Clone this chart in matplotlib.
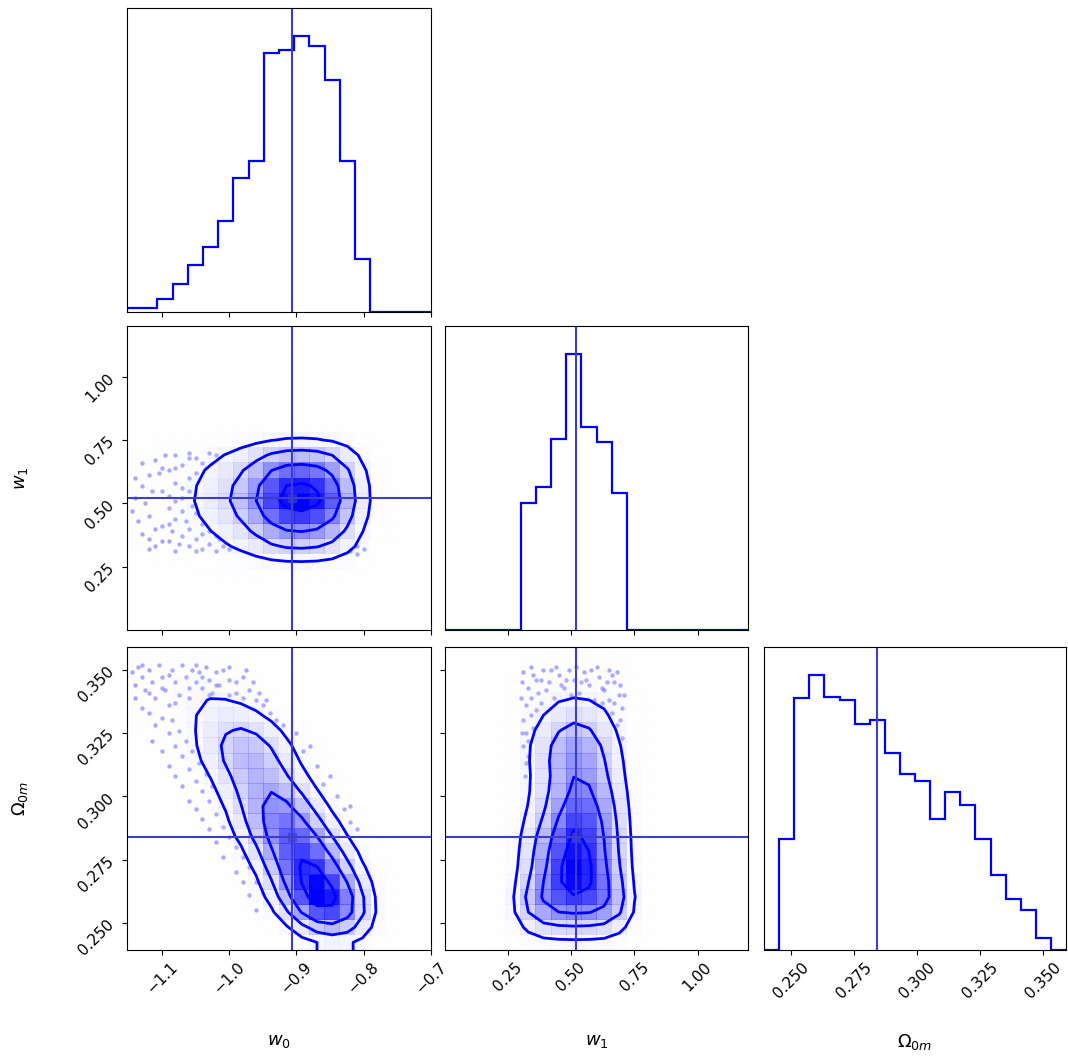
import numpy as np
import matplotlib
matplotlib.use("Agg")
import matplotlib.pyplot as plt
from matplotlib.colors import LinearSegmentedColormap
from matplotlib.ticker import FixedLocator

COLOR = "blue"
TRUTH_COLOR = "#3d3dcc"

LABELS = [r"$w_0$", r"$w_1$", r"$\Omega_{0m}$"]
RANGES = [(-1.152, -0.700), (0.0, 1.2), (0.2393, 0.3590)]
TRUTHS = [-0.907, 0.52, 0.284]
TICKS = [
    [-1.1, -1.0, -0.9, -0.8, -0.7],
    [0.25, 0.50, 0.75, 1.00],
    [0.250, 0.275, 0.300, 0.325, 0.350],
]
NBINS = 20

# 1D marginals (bar heights)
HIST_W0 = [13, 13, 40, 85, 140, 195, 273, 400, 453, 775,
           785, 827, 795, 693, 453, 160, 0, 0, 0, 0]
HIST_W1 = [0, 0, 0, 0, 0, 380, 429, 575, 830, 610,
           565, 412, 0, 0, 0, 0, 0, 0, 0, 0]
HIST_OM = [0, 335, 758, 830, 762, 753, 682, 694, 595, 530,
           508, 394, 475, 437, 334, 227, 155, 122, 37, 0]

# 2D counts, one entry per y bin: (y bin, first x bin, counts)
H_W0_W1 = [
    (5, 0, [1, 1, 4, 8, 14, 20, 27, 40, 45, 78, 79, 83, 80, 69, 45, 16]),
    (6, 0, [2, 2, 5, 10, 16, 22, 31, 45, 51, 88, 89, 94, 90, 78, 51, 18]),
    (7, 0, [2, 2, 6, 13, 21, 29, 41, 60, 68, 117, 119, 125, 120, 105, 68, 24]),
    (8, 0, [3, 3, 9, 19, 31, 43, 60, 87, 99, 169, 171, 180, 173, 151, 99, 35]),
    (9, 0, [2, 2, 6, 14, 22, 31, 44, 64, 73, 124, 126, 132, 127, 111, 73, 26]),
    (10, 0, [2, 2, 6, 13, 21, 29, 41, 60, 68, 116, 117, 123, 119, 103, 68, 24]),
    (11, 0, [1, 1, 4, 9, 15, 21, 30, 43, 49, 84, 85, 89, 86, 75, 49, 17]),
]

H_W0_OM = [
    (1, 10, [0.6, 2.4, 6, 9.5, 9.5, 6]),
    (2, 9, [1.2, 4.6, 11.5, 18.4, 18.4, 13.8, 8]),
    (3, 9, [2.5, 7.5, 15.1, 20.1, 18.9, 12.6, 6.3]),
    (4, 8, [1.1, 4.5, 10.1, 15.7, 17.9, 14.6, 9, 3.4]),
    (5, 8, [2.2, 6.6, 13.2, 17.6, 16.5, 11, 5.5, 2.2]),
    (6, 7, [1, 3.9, 8.7, 13.6, 15.5, 12.6, 7.8, 3.9, 1]),
    (7, 6, [1, 2.9, 6.8, 11.7, 15.5, 14.6, 9.7, 4.9, 1.9]),
    (8, 6, [1.7, 4.2, 8.5, 12.7, 13.5, 10.1, 5.9, 2.5, 0.8]),
    (9, 5, [0.7, 2.2, 5.2, 8.9, 11.9, 11.2, 7.5, 3.7, 1.5]),
    (10, 4, [0.7, 1.4, 3.4, 6.9, 10.3, 11, 9, 5.5, 2.1, 0.7]),
    (11, 4, [0.6, 2.2, 4.5, 7.2, 8.9, 7.8, 5, 2.2, 0.6]),
    (12, 3, [0.6, 1.9, 3.8, 7, 9.6, 10.2, 7.7, 4.5, 1.9, 0.6]),
    (13, 3, [1.2, 2.3, 4.7, 7.6, 9.4, 8.8, 5.9, 2.9, 1.2]),
    (14, 2, [0.4, 1.3, 2.6, 4.3, 6.1, 7, 5.7, 3.5, 1.7, 0.4]),
    (15, 1, [0.3, 0.6, 1.5, 2.7, 3.9, 4.8, 4.2, 3, 1.5, 0.6]),
    (16, 0, [0.2, 0.6, 1.2, 2, 2.8, 3.2, 2.8, 2, 1, 0.4]),
    (17, 0, [0.3, 0.8, 1.4, 2, 2.5, 2.2, 1.6, 0.9, 0.3]),
    (18, 0, [0.2, 0.4, 0.6, 0.9, 0.9, 0.6, 0.4, 0.1]),
]

H_W1_OM = [
    (1, 5, [4.4, 4.8, 4.9, 5.3, 4.9, 4.9, 4.8]),
    (2, 5, [9.9, 10.6, 11, 11.8, 11, 11, 10.6]),
    (3, 5, [10.8, 11.6, 12, 12.9, 12, 12, 11.6]),
    (4, 5, [5.8, 7.8, 13.4, 17.5, 14.2, 10.3, 7]),
    (5, 5, [5.7, 7.7, 13.2, 17.3, 14, 10.2, 6.9]),
    (6, 5, [5.2, 7, 12, 15.7, 12.7, 9.2, 6.2]),
    (7, 5, [5.3, 7.1, 12.1, 15.9, 12.9, 9.4, 6.3]),
    (8, 5, [3.6, 4.8, 9, 15, 12.6, 9.6, 5.4]),
    (9, 5, [3.2, 4.2, 8, 13.3, 11.1, 8.5, 4.8]),
    (10, 5, [3.1, 4.1, 7.7, 12.8, 10.7, 8.2, 4.6]),
    (11, 5, [2.3, 3.1, 5.9, 9.8, 8.2, 6.2, 3.5]),
    (12, 5, [3.4, 4.8, 8.2, 13, 9.1, 5.8, 3.8]),
    (13, 5, [3.1, 4.4, 7.5, 11.9, 8.4, 5.3, 3.5]),
    (14, 5, [2.3, 3.3, 5.6, 8.9, 6.3, 4, 2.6]),
    (15, 5, [1.6, 2.3, 3.9, 6.2, 4.4, 2.8, 1.8]),
    (16, 5, [2.1, 2.1, 2.2, 2.6, 2.4, 2.4, 2.2]),
    (17, 5, [1.6, 1.6, 1.7, 1.9, 1.8, 1.8, 1.7]),
    (18, 5, [0.5, 0.5, 0.6, 0.6, 0.6, 0.6, 0.6]),
]

# outlying samples visible outside the outer contours
PTS_W0_W1 = [
    (-1.14, 0.52), (-1.13, 0.38), (-1.12, 0.61), (-1.12, 0.45), (-1.11, 0.33),
    (-1.11, 0.67), (-1.10, 0.55), (-1.10, 0.41), (-1.09, 0.48), (-1.09, 0.63),
    (-1.09, 0.35), (-1.08, 0.69), (-1.08, 0.58), (-1.08, 0.44), (-1.08, 0.31),
    (-1.07, 0.52), (-1.07, 0.37), (-1.07, 0.65), (-1.07, 0.47), (-1.06, 0.60),
    (-1.06, 0.40), (-1.06, 0.33), (-1.06, 0.55), (-1.06, 0.70), (-1.05, 0.46),
    (-1.05, 0.62), (-1.05, 0.36), (-1.05, 0.53), (-1.05, 0.68), (-1.04, 0.42),
    (-1.04, 0.58), (-1.04, 0.32), (-1.04, 0.50), (-1.04, 0.66), (-1.03, 0.39),
    (-1.03, 0.61), (-1.03, 0.45), (-1.03, 0.56), (-1.03, 0.34), (-1.03, 0.70),
    (-1.02, 0.48), (-1.02, 0.64), (-1.02, 0.37), (-1.02, 0.59), (-1.02, 0.31),
    (-1.01, 0.43), (-1.01, 0.67), (-1.01, 0.33), (-1.01, 0.54), (-1.00, 0.69),
    (-1.00, 0.32), (-0.82, 0.31), (-0.81, 0.33), (-0.80, 0.32), (-0.81, 0.30),
    (-1.13, 0.57), (-1.12, 0.36), (-1.10, 0.64), (-1.09, 0.42), (-1.08, 0.51),
    (-1.145, 0.47), (-1.14, 0.60), (-1.135, 0.43), (-1.13, 0.66), (-1.125, 0.50),
    (-1.12, 0.32), (-1.115, 0.55), (-1.11, 0.40), (-1.105, 0.62), (-1.10, 0.35),
    (-1.095, 0.69), (-1.09, 0.53), (-1.085, 0.39), (-1.08, 0.64), (-1.075, 0.34),
    (-1.07, 0.56), (-1.065, 0.43), (-1.06, 0.68), (-1.055, 0.49), (-1.05, 0.31),
    (-1.045, 0.57), (-1.04, 0.38), (-1.035, 0.64), (-1.03, 0.51), (-1.025, 0.42),
    (-1.02, 0.69), (-1.015, 0.36), (-1.01, 0.60), (-0.83, 0.32), (-0.82, 0.34),
]

PTS_W0_OM = [
    (-1.145, 0.349), (-1.14, 0.344), (-1.135, 0.351), (-1.13, 0.347), (-1.125, 0.342),
    (-1.12, 0.350), (-1.115, 0.345), (-1.11, 0.339), (-1.105, 0.352), (-1.10, 0.347),
    (-1.095, 0.342), (-1.09, 0.336), (-1.085, 0.350), (-1.08, 0.345), (-1.075, 0.340),
    (-1.07, 0.352), (-1.065, 0.347), (-1.06, 0.343), (-1.055, 0.350), (-1.05, 0.345),
    (-1.045, 0.349), (-1.04, 0.343), (-1.035, 0.351), (-1.03, 0.346), (-1.025, 0.341),
    (-1.02, 0.349), (-1.015, 0.344), (-1.01, 0.350), (-1.00, 0.346), (-0.99, 0.341),
    (-0.98, 0.347), (-0.97, 0.342), (-0.96, 0.338), (-0.95, 0.336), (-0.94, 0.333),
    (-0.93, 0.330),
    (-1.14, 0.339), (-1.13, 0.352), (-1.12, 0.341), (-1.10, 0.343), (-1.09, 0.348),
    (-1.08, 0.337), (-1.06, 0.339), (-1.05, 0.352), (-1.04, 0.347), (-1.03, 0.340),
    (-1.02, 0.344), (-1.00, 0.351), (-0.99, 0.345), (-0.98, 0.339), (-0.975, 0.350),
    (-0.965, 0.345), (-0.955, 0.341), (-0.945, 0.338), (-1.00, 0.340),
    (-1.12, 0.333), (-1.11, 0.328), (-1.10, 0.331), (-1.09, 0.325), (-1.085, 0.330),
    (-1.08, 0.320), (-1.075, 0.326), (-1.07, 0.316), (-1.065, 0.322), (-1.06, 0.311),
    (-1.055, 0.318), (-1.05, 0.306), (-1.045, 0.313), (-1.04, 0.302), (-1.035, 0.309),
    (-1.03, 0.298), (-1.025, 0.304), (-1.02, 0.293), (-1.01, 0.288), (-1.00, 0.284),
    (-0.99, 0.280), (-0.98, 0.276), (-0.97, 0.272), (-0.96, 0.266), (-0.95, 0.262),
    (-0.94, 0.258),
    (-1.13, 0.335), (-1.115, 0.322), (-1.10, 0.318), (-1.09, 0.312), (-1.08, 0.308),
    (-1.07, 0.304), (-1.06, 0.298), (-1.05, 0.295), (-1.04, 0.291), (-1.03, 0.287),
    (-1.02, 0.282), (-1.01, 0.276), (-0.99, 0.270), (-0.98, 0.266), (-0.97, 0.261),
    (-0.96, 0.255),
    (-0.90, 0.325), (-0.89, 0.318), (-0.87, 0.312), (-0.86, 0.305), (-0.84, 0.300),
    (-0.83, 0.295), (-0.82, 0.290), (-0.81, 0.287), (-0.92, 0.328), (-0.88, 0.320),
    (-0.85, 0.308), (-0.82, 0.296),
]

PTS_W1_OM = [
    (0.31, 0.349), (0.33, 0.343), (0.35, 0.348), (0.37, 0.341), (0.39, 0.350),
    (0.41, 0.345), (0.43, 0.339), (0.45, 0.348), (0.47, 0.343), (0.49, 0.350),
    (0.51, 0.346), (0.53, 0.341), (0.55, 0.349), (0.57, 0.344), (0.59, 0.338),
    (0.61, 0.347), (0.63, 0.342), (0.65, 0.350), (0.67, 0.345), (0.69, 0.340),
    (0.32, 0.336), (0.36, 0.346), (0.40, 0.342), (0.44, 0.351), (0.48, 0.346),
    (0.52, 0.351), (0.56, 0.346), (0.60, 0.351), (0.64, 0.345), (0.68, 0.349),
    (0.70, 0.335),
    (0.31, 0.330), (0.32, 0.325), (0.31, 0.320), (0.33, 0.316), (0.34, 0.332),
    (0.35, 0.327), (0.32, 0.313), (0.66, 0.333), (0.68, 0.328), (0.70, 0.323),
    (0.69, 0.318), (0.67, 0.322), (0.70, 0.314), (0.65, 0.338),
    (0.305, 0.345), (0.34, 0.351), (0.38, 0.346), (0.42, 0.350), (0.46, 0.344),
    (0.50, 0.340), (0.54, 0.345), (0.58, 0.350), (0.62, 0.343), (0.66, 0.348),
    (0.695, 0.344), (0.30, 0.339), (0.34, 0.339), (0.38, 0.337), (0.62, 0.337),
    (0.67, 0.337), (0.305, 0.325), (0.315, 0.308), (0.33, 0.322), (0.695, 0.330),
    (0.685, 0.312), (0.66, 0.326), (0.36, 0.334), (0.64, 0.331), (0.71, 0.340),
]

white_cmap = LinearSegmentedColormap.from_list("white_cmap", [(1, 1, 1), (1, 1, 1)], N=2)
density_cmap = LinearSegmentedColormap.from_list("density_cmap", [COLOR, (1, 1, 1, 0)])


def build_grid(rows):
    H = np.zeros((NBINS, NBINS))
    for iy, ix0, vals in rows:
        H[ix0:ix0 + len(vals), iy] = vals
    return H


def gauss_smooth(H, sigma):
    r = int(4 * sigma + 0.5)
    k = np.exp(-0.5 * (np.arange(-r, r + 1) / sigma) ** 2)
    k /= k.sum()
    P = np.pad(H, r, mode="symmetric")
    P = np.apply_along_axis(np.convolve, 0, P, k, mode="valid")
    P = np.apply_along_axis(np.convolve, 1, P, k, mode="valid")
    return P


def extend(c):
    return np.concatenate([c[0] + np.array([-2, -1]) * np.diff(c[:2]), c,
                           c[-1] + np.array([1, 2]) * np.diff(c[-2:])])


def draw_2d(ax, rows, xr, yr, pts, smooth=1.0):
    X = np.linspace(*xr, NBINS + 1)
    Y = np.linspace(*yr, NBINS + 1)
    H = gauss_smooth(build_grid(rows), smooth)

    levels = 1.0 - np.exp(-0.5 * np.arange(0.5, 2.1, 0.5) ** 2)
    Hflat = np.sort(H.flatten())[::-1]
    sm = np.cumsum(Hflat)
    sm /= sm[-1]
    V = np.empty(len(levels))
    for i, v0 in enumerate(levels):
        below = Hflat[sm <= v0]
        V[i] = below[-1] if len(below) else Hflat[0]
    V.sort()

    X1, Y1 = 0.5 * (X[1:] + X[:-1]), 0.5 * (Y[1:] + Y[:-1])
    H2 = H.min() + np.zeros((H.shape[0] + 4, H.shape[1] + 4))
    H2[2:-2, 2:-2] = H
    H2[2:-2, 1] = H[:, 0]
    H2[2:-2, -2] = H[:, -1]
    H2[1, 2:-2] = H[0]
    H2[-2, 2:-2] = H[-1]
    H2[1, 1] = H[0, 0]
    H2[1, -2] = H[0, -1]
    H2[-2, 1] = H[-1, 0]
    H2[-2, -2] = H[-1, -1]
    X2, Y2 = extend(X1), extend(Y1)

    px, py = np.array(pts).T
    ax.plot(px, py, "o", color=COLOR, ms=3.2, alpha=0.35, mec="none", zorder=-1)
    ax.contourf(X2, Y2, H2.T, [V.min(), H.max()], cmap=white_cmap, antialiased=False)
    ax.pcolor(X, Y, H.max() - H.T, cmap=density_cmap)
    ax.contour(X2, Y2, H2.T, V, colors=COLOR, linewidths=2.0)
    ax.set_xlim(xr)
    ax.set_ylim(yr)


def draw_1d(ax, counts, xr, truth):
    edges = np.linspace(*xr, NBINS + 1)
    ax.stairs(counts, edges, color=COLOR, lw=1.6)
    ax.set_xlim(xr)
    ax.set_ylim(0, 1.1 * max(counts))
    ax.set_yticks([])
    ax.axvline(truth, color=TRUTH_COLOR, lw=1.5)


fig = plt.figure(figsize=(10.68, 10.63), dpi=100)
W, Hpx = 1068.0, 1063.0
col_left = [127, 445, 764]
col_w = [304, 303, 302]
row_top = [8, 326, 647]
row_h = [304, 304, 303]

hists = [HIST_W0, HIST_W1, HIST_OM]
pairs = {(1, 0): (H_W0_W1, PTS_W0_W1),
         (2, 0): (H_W0_OM, PTS_W0_OM),
         (2, 1): (H_W1_OM, PTS_W1_OM)}

for i in range(3):
    for j in range(i + 1):
        ax = fig.add_axes([col_left[j] / W, 1 - (row_top[i] + row_h[i]) / Hpx,
                           col_w[j] / W, row_h[i] / Hpx])
        if i == j:
            draw_1d(ax, hists[i], RANGES[i], TRUTHS[i])
        else:
            rows, pts = pairs[(i, j)]
            draw_2d(ax, rows, RANGES[j], RANGES[i], pts)
            ax.axvline(TRUTHS[j], color=TRUTH_COLOR, lw=1.5)
            ax.axhline(TRUTHS[i], color=TRUTH_COLOR, lw=1.5)
            ax.plot(TRUTHS[j], TRUTHS[i], "s", color=TRUTH_COLOR, ms=6, alpha=0.6)
            ax.yaxis.set_major_locator(FixedLocator(TICKS[i]))
            ax.set_ylim(RANGES[i])
            if j == 0:
                ax.set_ylabel(LABELS[i], fontsize=13)
                ax.yaxis.set_label_coords(-0.32, 0.5)
                for lab in ax.get_yticklabels():
                    lab.set_rotation(45)
            else:
                ax.tick_params(labelleft=False)

        ax.xaxis.set_major_locator(FixedLocator(TICKS[j]))
        ax.set_xlim(RANGES[j])
        ax.tick_params(labelsize=11)
        if i == 2:
            ax.set_xlabel(LABELS[j], fontsize=13)
            ax.xaxis.set_label_coords(0.5, -0.27)
            for lab in ax.get_xticklabels():
                lab.set_rotation(45)
        else:
            ax.tick_params(labelbottom=False)

fig.savefig("out.png", dpi=100)
plt.close(fig)
